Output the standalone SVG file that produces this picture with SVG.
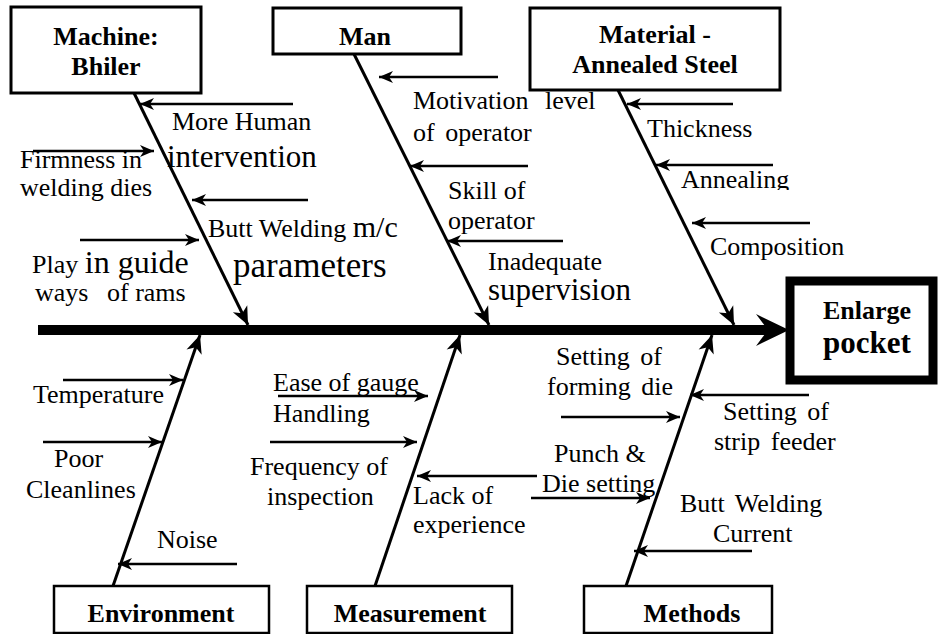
<svg xmlns="http://www.w3.org/2000/svg" width="938" height="634" viewBox="0 0 938 634">
<style>
.box{fill:#fff;stroke:#000;stroke-width:3}
.bone{stroke:#000;stroke-width:3;fill:none}
.sub{stroke:#000;stroke-width:2.5;fill:none;marker-end:url(#ah)}
.t{font-family:"Liberation Serif","Times New Roman",serif;font-size:26px;fill:#000}
.b{font-family:"Liberation Serif","Times New Roman",serif;font-size:26px;font-weight:bold;fill:#000;text-anchor:middle}
</style>
<defs>
<marker id="ah" markerUnits="userSpaceOnUse" markerWidth="16" markerHeight="14" refX="14" refY="7" orient="auto" overflow="visible">
<path d="M0,1 L14,7 L0,13 L4,7 z" fill="#000"/>
</marker>
<marker id="bh" markerUnits="userSpaceOnUse" markerWidth="20" markerHeight="18" refX="18" refY="9" orient="auto" overflow="visible">
<path d="M0,1 L18,9 L0,17 L5,9 z" fill="#000"/>
</marker>
<clipPath id="clipAnn"><rect x="600" y="150" width="250" height="40"/></clipPath>
</defs>
<rect width="938" height="634" fill="#fff"/>

<g id="connectors">
<line x1="38" y1="330" x2="772" y2="330" stroke="#000" stroke-width="10"/>
<path d="M789,330 L756,314 L768,330 L756,346 z" fill="#000"/>
<line class="bone" x1="134" y1="93" x2="248" y2="325" marker-end="url(#bh)"/>
<line class="bone" x1="354" y1="54" x2="489" y2="325" marker-end="url(#bh)"/>
<line class="bone" x1="618" y1="90" x2="734" y2="325" marker-end="url(#bh)"/>
<line class="bone" x1="113" y1="586" x2="200" y2="335" marker-end="url(#bh)"/>
<line class="bone" x1="375" y1="586" x2="460" y2="335" marker-end="url(#bh)"/>
<line class="bone" x1="626" y1="586" x2="712" y2="335" marker-end="url(#bh)"/>
<line class="sub" x1="293" y1="104" x2="140" y2="104"/>
<line class="sub" x1="33" y1="151" x2="154" y2="151"/>
<line class="sub" x1="308" y1="200" x2="192" y2="200"/>
<line class="sub" x1="80" y1="240" x2="199" y2="240"/>
<line class="sub" x1="498" y1="77" x2="379" y2="77"/>
<line class="sub" x1="528" y1="166" x2="410" y2="166"/>
<line class="sub" x1="563" y1="241" x2="447" y2="241"/>
<line class="sub" x1="733" y1="104" x2="627" y2="104"/>
<line class="sub" x1="773" y1="165" x2="656" y2="165"/>
<line class="sub" x1="810" y1="223" x2="692" y2="223"/>
<line class="sub" x1="63" y1="380" x2="183" y2="380"/>
<line class="sub" x1="43" y1="442" x2="162" y2="442"/>
<line class="sub" x1="237" y1="564" x2="118" y2="564"/>
<line class="sub" x1="278" y1="396" x2="428" y2="396"/>
<line class="sub" x1="270" y1="442" x2="417" y2="442"/>
<line class="sub" x1="537" y1="476" x2="417" y2="476"/>
<line class="sub" x1="531" y1="498" x2="650" y2="498"/>
<line class="sub" x1="561" y1="417" x2="680" y2="417"/>
<line class="sub" x1="809" y1="395" x2="690" y2="395"/>
<line class="sub" x1="752" y1="551" x2="634" y2="551"/>
</g>

<g id="machine">
<rect class="box" x="11" y="7" width="190" height="86"/>
<text class="b" x="106" y="45">Machine:</text>
<text class="b" x="106" y="75">Bhiler</text>
</g>
<g id="man">
<rect class="box" x="273" y="8" width="188" height="46"/>
<text class="b" x="365" y="45">Man</text>
</g>
<g id="material">
<rect class="box" x="530" y="8" width="250" height="82"/>
<text class="b" x="655" y="43">Material -</text>
<text class="b" x="655" y="73">Annealed Steel</text>
</g>
<g id="effect">
<rect x="790" y="281" width="143" height="99" fill="#fff" stroke="#000" stroke-width="9"/>
<text class="b" x="867" y="319">Enlarge</text>
<text class="b" x="867" y="353" style="font-size:31px">pocket</text>
</g>
<g id="environment">
<rect class="box" x="54" y="586" width="215" height="47" style="stroke-width:2.5"/>
<text class="b" x="161" y="622">Environment</text>
</g>
<g id="measurement">
<rect class="box" x="307" y="586" width="205" height="47" style="stroke-width:2.5"/>
<text class="b" x="410" y="622">Measurement</text>
</g>
<g id="methods">
<rect class="box" x="584" y="586" width="188" height="47" style="stroke-width:2.5"/>
<text class="b" x="692" y="622">Methods</text>
</g>

<g id="machine-causes">
<text class="t" x="172" y="130">More Human</text>
<text class="t" x="167" y="167" style="font-size:31px">intervention</text>
<text class="t" x="20" y="168">Firmness in</text>
<text class="t" x="20" y="196">welding dies</text>
<text class="t" x="208" y="237">Butt Welding <tspan style="font-size:30px">m/c</tspan></text>
<text class="t" x="233" y="277" style="font-size:35px">parameters</text>
<text class="t" x="32" y="273">Play <tspan style="font-size:32px">in guide</tspan></text>
<text class="t" x="35" y="301">ways</text>
<text class="t" x="107" y="301">of rams</text>
</g>
<g id="man-causes">
<text class="t" x="413" y="109" word-spacing="10">Motivation level</text>
<text class="t" x="413" y="141" word-spacing="4">of operator</text>
<text class="t" x="448" y="199">Skill of</text>
<text class="t" x="448" y="229">operator</text>
<text class="t" x="488" y="270">Inadequate</text>
<text class="t" x="488" y="300" style="font-size:31px">supervision</text>
</g>
<g id="material-causes">
<text class="t" x="647" y="137">Thickness</text>
<text class="t" x="681" y="188" clip-path="url(#clipAnn)">Annealing</text>
<text class="t" x="710" y="255">Composition</text>
</g>
<g id="environment-causes">
<text class="t" x="33" y="403">Temperature</text>
<text class="t" x="54" y="467">Poor</text>
<text class="t" x="26" y="498">Cleanlines</text>
<text class="t" x="157" y="548">Noise</text>
</g>
<g id="measurement-causes">
<text class="t" x="273" y="391">Ease of gauge</text>
<text class="t" x="273" y="422">Handling</text>
<text class="t" x="250" y="475">Frequency of</text>
<text class="t" x="267" y="505">inspection</text>
<text class="t" x="413" y="504">Lack of</text>
<text class="t" x="413" y="533">experience</text>
</g>
<g id="methods-causes">
<text class="t" x="556" y="365" word-spacing="4">Setting of</text>
<text class="t" x="547" y="395" word-spacing="4">forming die</text>
<text class="t" x="723" y="420" word-spacing="4">Setting of</text>
<text class="t" x="714" y="450" word-spacing="4">strip feeder</text>
<text class="t" x="554" y="462">Punch &amp;</text>
<text class="t" x="542" y="492">Die setting</text>
<text class="t" x="680" y="512" word-spacing="4">Butt Welding</text>
<text class="t" x="713" y="542">Current</text>
</g>
</svg>
